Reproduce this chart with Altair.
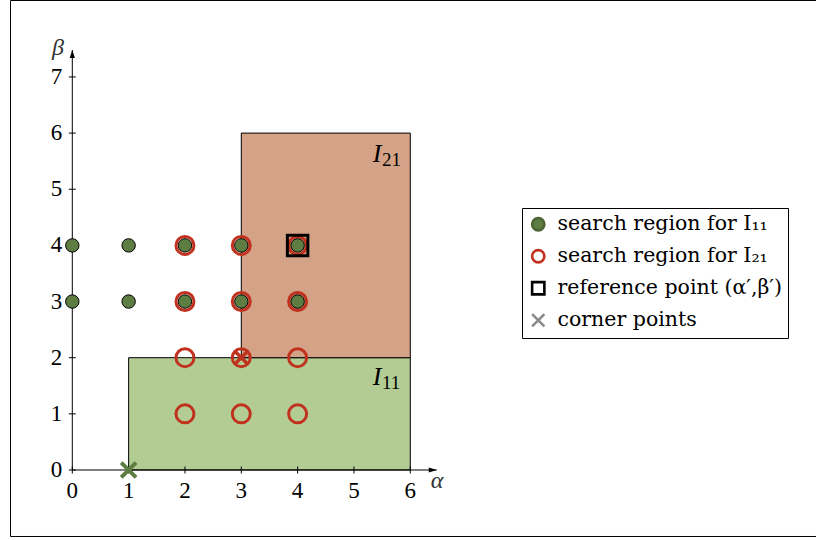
import altair as alt
import pandas as pd

# ---- data -------------------------------------------------------------
# search region for I11 (filled dots)
i11_alpha = [0, 1, 2, 3, 4, 0, 1, 2, 3, 4]
i11_beta = [4, 4, 4, 4, 4, 3, 3, 3, 3, 3]
# search region for I21 (rings)
i21_alpha = [2, 3, 4, 2, 3, 4, 2, 3, 4, 2, 3, 4]
i21_beta = [4, 4, 4, 3, 3, 3, 2, 2, 2, 1, 1, 1]
# reference point (alpha', beta')
ref_alpha = [4]
ref_beta = [4]
# corner points of the two intervals
corner_alpha = [1, 3]
corner_beta = [0, 2]

# the two intervals
region_name = ["I11", "I21"]
region_alpha0 = [1, 3]
region_alpha1 = [6, 6]
region_beta0 = [0, 2]
region_beta1 = [2, 6]
region_label_alpha = [5.41, 5.41]
region_label_beta = [1.51, 5.485]
region_sub = ["11", "21"]

# axes
x_ticks = [0, 1, 2, 3, 4, 5, 6]
y_ticks = [0, 1, 2, 3, 4, 5, 6, 7]
alpha_end = 6.47
beta_end = 7.48

# ---- styling ----------------------------------------------------------
FONT = "Liberation Serif"
LEGEND_FONT = "DejaVu Serif"
GREEN_FILL = "#b2cc94"
RED_FILL = "#d4a286"
GREEN = "#5e7d42"
RED = "#c0311e"
GREY = "#8a8a8a"
X_PATH = "M-1,-1L1,1M-1,1L1,-1"

S1 = "search region for I\u2081\u2081"
S2 = "search region for I\u2082\u2081"
S3 = "reference point (\u03b1\u2032,\u03b2\u2032)"
S4 = "corner points"
series_domain = [S1, S2, S3, S4]

# data-space extent of the drawing area (816 x 540 px)
X_DOM = [-1.2835, 13.2025]
Y_DOM = [-1.2467, 8.3704]

xs = alt.Scale(domain=X_DOM, nice=False, zero=False)
ys = alt.Scale(domain=Y_DOM, nice=False, zero=False)

leg = alt.Legend(
    title=None, orient="none", legendX=522, legendY=208,
    strokeColor="black", fillColor="white", padding=6, cornerRadius=0,
    labelFont=LEGEND_FONT, labelFontSize=20.5, labelColor="black", labelOffset=9,
    symbolSize=150, symbolStrokeWidth=2.6, rowPadding=8, labelLimit=400,
)
shape_enc = alt.Shape("series:N", scale=alt.Scale(domain=series_domain,
                      range=["circle", "circle", "square", X_PATH]), legend=leg)
fill_enc = alt.Fill("series:N", scale=alt.Scale(domain=series_domain,
                    range=[GREEN, "transparent", "transparent", "transparent"]), legend=leg)
stroke_enc = alt.Stroke("series:N", scale=alt.Scale(domain=series_domain,
                        range=["#4b6534", RED, "black", GREY]), legend=leg)

X = lambda f: alt.X(f, type="quantitative", scale=xs, axis=None)
Y = lambda f: alt.Y(f, type="quantitative", scale=ys, axis=None)

# ---- frame ------------------------------------------------------------
frame_df = pd.DataFrame({"x": [-1.097], "x2": [14.0], "y": [8.3615], "y2": [-1.1843]})
frame = alt.Chart(frame_df).mark_rect(clip=True, fillOpacity=0, stroke="black", strokeWidth=1).encode(
    x=X("x"), x2="x2", y=Y("y"), y2="y2")

# ---- intervals --------------------------------------------------------
regions_df = pd.DataFrame({"name": region_name, "a0": region_alpha0, "a1": region_alpha1,
                           "b0": region_beta0, "b1": region_beta1})
rect_i11 = alt.Chart(regions_df).transform_filter(alt.datum.name == "I11").mark_rect(
    fill=GREEN_FILL, stroke="black", strokeWidth=1).encode(x=X("a0"), x2="a1", y=Y("b0"), y2="b1")
rect_i21 = alt.Chart(regions_df).transform_filter(alt.datum.name == "I21").mark_rect(
    fill=RED_FILL, stroke="black", strokeWidth=1).encode(x=X("a0"), x2="a1", y=Y("b0"), y2="b1")

# ---- axes -------------------------------------------------------------
axis_df = pd.DataFrame({"x": [0, 0], "x2": [alpha_end, 0], "y": [0, 0], "y2": [0, beta_end]})
axis_lines = alt.Chart(axis_df).mark_rule(color="black", strokeWidth=1).encode(
    x=X("x"), x2="x2", y=Y("y"), y2="y2")

xt_df = pd.DataFrame({"v": x_ticks, "z": [0] * len(x_ticks), "t": [str(v) for v in x_ticks]})
yt_df = pd.DataFrame({"v": y_ticks, "z": [0] * len(y_ticks), "t": [str(v) for v in y_ticks]})

x_tick_marks = alt.Chart(xt_df).mark_tick(orient="vertical", size=7, thickness=1,
                                          color="black", opacity=1).encode(x=X("v"), y=Y("z"))
y_tick_marks = alt.Chart(yt_df).mark_tick(orient="horizontal", size=7, thickness=1,
                                          color="black", opacity=1).encode(y=Y("v"), x=X("z"))
x_tick_labels = alt.Chart(xt_df).mark_text(font=FONT, fontSize=23, color="black", align="center",
                                           baseline="middle", dy=21).encode(x=X("v"), y=Y("z"), text="t:N")
y_tick_labels = alt.Chart(yt_df).mark_text(font=FONT, fontSize=23, color="black", align="right",
                                           baseline="middle", dx=-10).encode(y=Y("v"), x=X("z"), text="t:N")

arrow_df = pd.DataFrame({"x": [alpha_end, 0], "y": [0, beta_end],
                         "dir": ["M0,0L-2,-0.65L-2,0.65Z", "M0,0L-0.65,2L0.65,2Z"]})
arrows = alt.Chart(arrow_df).mark_point(filled=True, size=64, color="black", opacity=1, strokeWidth=0).encode(
    x=X("x"), y=Y("y"), shape=alt.Shape("dir:N", scale=None))

axis_names_df = pd.DataFrame({"t": ["\u03b1", "\u03b2"], "x": [6.474, -0.254], "y": [-0.32, 7.39]})
axis_names = alt.Chart(axis_names_df).mark_text(font=FONT, fontSize=24, fontStyle="italic",
                                                color="#333333", baseline="alphabetic", align="center").encode(
    x=X("x"), y=Y("y"), text="t:N")

# ---- points -----------------------------------------------------------
def points(alpha, beta, series, size, width, stroke_value=None):
    df = pd.DataFrame({"alpha": alpha, "beta": beta, "series": [series] * len(alpha)})
    enc = dict(x=X("alpha"), y=Y("beta"), shape=shape_enc, fill=fill_enc,
               strokeWidth=alt.value(width))
    enc["stroke"] = stroke_enc if stroke_value is None else alt.value(stroke_value)
    return alt.Chart(df).mark_point(size=size, opacity=1).encode(**enc)

rings = points(i21_alpha, i21_beta, S2, 324, 3)
dots = points(i11_alpha, i11_beta, S1, 180, 1, "black")
ref = points(ref_alpha, ref_beta, S3, 420, 3)
corner_green = points(corner_alpha[:1], corner_beta[:1], S4, 220, 4, GREEN)
corner_red = points(corner_alpha[1:], corner_beta[1:], S4, 150, 3.5, RED)

# ---- interval labels --------------------------------------------------
lab_df = pd.DataFrame({"x": region_label_alpha, "y": region_label_beta, "sub": region_sub})
lab_i = alt.Chart(lab_df).mark_text(font=FONT, fontSize=26, fontStyle="italic", color="black",
                                    align="center", baseline="alphabetic").encode(
    x=X("x"), y=Y("y"), text=alt.value("I"))
lab_sub = alt.Chart(lab_df).mark_text(font=FONT, fontSize=19, color="black",
                                      align="left", baseline="alphabetic", dx=5, dy=4).encode(
    x=X("x"), y=Y("y"), text="sub:N")

chart = alt.layer(
    frame, rect_i11, rect_i21, axis_lines, x_tick_marks, y_tick_marks, x_tick_labels, y_tick_labels,
    arrows, axis_names, rings, dots, ref, corner_green, corner_red, lab_i, lab_sub,
).properties(
    width=816, height=540, padding=0, autosize=alt.AutoSizeParams(type="none"),
    background="white",
).configure_view(strokeWidth=0)

chart.save("out.html", embed_options={"renderer": "svg", "actions": False})
